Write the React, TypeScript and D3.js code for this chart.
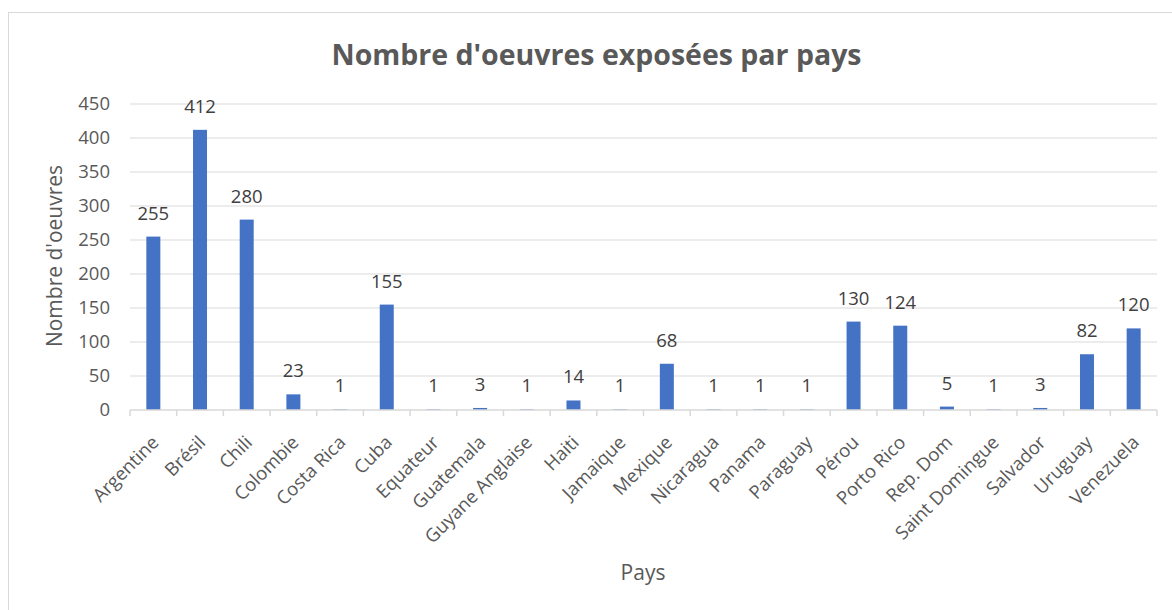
import React from "react";
import * as d3 from "d3";

const categories = [
  "Argentine", "Brésil", "Chili", "Colombie", "Costa Rica", "Cuba", "Equateur",
  "Guatemala", "Guyane Anglaise", "Haiti", "Jamaique", "Mexique", "Nicaragua",
  "Panama", "Paraguay", "Pérou", "Porto Rico", "Rep. Dom", "Saint Domingue",
  "Salvador", "Uruguay", "Venezuela",
];
const values = [255, 412, 280, 23, 1, 155, 1, 3, 1, 14, 1, 68, 1, 1, 1, 130, 124, 5, 1, 3, 82, 120];
const yTicks = [0, 50, 100, 150, 200, 250, 300, 350, 400, 450];
const title = "Nombre d'oeuvres exposées par pays";
const yTitle = "Nombre d'oeuvres";
const xTitle = "Pays";

const W = 1172;
const H = 610;
const FONT = "'Open Sans', 'Noto Sans', sans-serif";

export default function App() {
  React.useEffect(() => {
    document.body.style.margin = "0";
  }, []);
  const left = 130, right = 1157, top = 104, bottom = 410;
  const x = d3.scaleBand<string>().domain(categories).range([left, right]).paddingInner(0).paddingOuter(0);
  const y = d3.scaleLinear().domain([0, 450]).range([bottom, top]);
  const bw = 14;
  const bounds = categories.map((c) => x(c)!).concat([right]);

  return (
    <svg width={W} height={H} style={{ display: "block", background: "#fff" }}>
      <rect x={8.5} y={12.5} width={1300} height={800} fill="#fff" stroke="#d9d9d9" strokeWidth={1} />
      <text x={596.5} y={65} textAnchor="middle" fontFamily={FONT} fontWeight={700} fontSize={28.5} fill="#595959">
        {title}
      </text>
      {yTicks.map((t) => (
        <g key={t}>
          {t > 0 && <line x1={left} x2={right} y1={y(t)} y2={y(t)} stroke="#d9d9d9" strokeWidth={1} />}
          <text x={110} y={y(t)} dy="0.35em" textAnchor="end" fontFamily={FONT} fontSize={18.5} fill="#595959">
            {t}
          </text>
        </g>
      ))}
      {categories.map((c, i) => (
        <g key={c}>
          <rect
            x={x(c)! + x.bandwidth() / 2 - bw / 2}
            y={y(values[i])}
            width={bw}
            height={bottom - y(values[i])}
            fill="#4472C4"
          />
          <text
            x={x(c)! + x.bandwidth() / 2}
            y={y(values[i]) - 17}
            textAnchor="middle"
            fontFamily={FONT}
            fontSize={18.5}
            fill="#404040"
          >
            {values[i]}
          </text>
          <text
            transform={`translate(${x(c)! + x.bandwidth() / 2 + 2},${bottom + 29}) rotate(-45)`}
            textAnchor="end"
            dy="0.35em"
            fontFamily={FONT}
            fontSize={18.5}
            fill="#595959"
          >
            {c}
          </text>
        </g>
      ))}
      <line x1={left} x2={right} y1={bottom} y2={bottom} stroke="#d9d9d9" strokeWidth={1.5} />
      {bounds.map((b, i) => (
        <line key={i} x1={b} x2={b} y1={bottom} y2={bottom + 6} stroke="#d9d9d9" strokeWidth={1.5} />
      ))}
      <text
        transform={`translate(62,256) rotate(-90)`}
        textAnchor="middle"
        fontFamily={FONT}
        fontSize={21}
        fill="#595959"
      >
        {yTitle}
      </text>
      <text x={643} y={580} textAnchor="middle" fontFamily={FONT} fontSize={21} fill="#595959">
        {xTitle}
      </text>
    </svg>
  );
}
